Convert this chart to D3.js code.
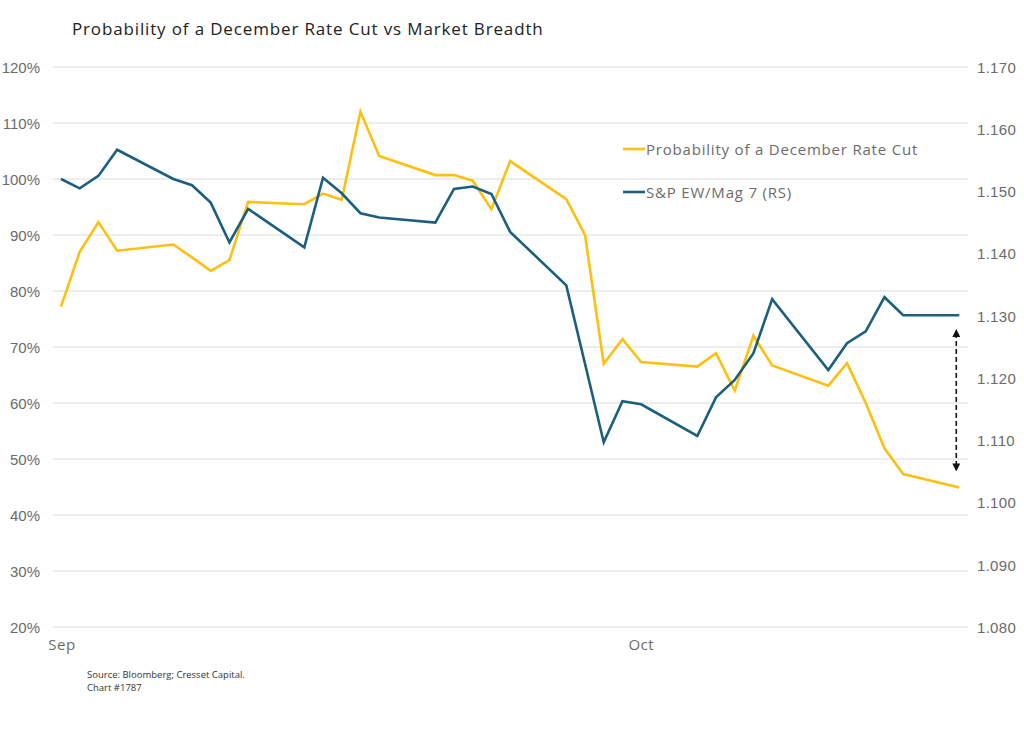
<!DOCTYPE html>
<html>
<head>
<meta charset="utf-8">
<script src="https://cdn.jsdelivr.net/npm/d3@7"></script>
<style>
  html, body { margin: 0; padding: 0; background: #fff; }
  svg { display: block; font-family: "Open Sans", "Noto Sans", sans-serif; }
</style>
</head>
<body>
<svg id="chart" width="1024" height="744"></svg>
<script>
const dates = ["2025-09-02","2025-09-03","2025-09-04","2025-09-05","2025-09-08","2025-09-09","2025-09-10","2025-09-11","2025-09-12",
  "2025-09-15","2025-09-16","2025-09-17","2025-09-18","2025-09-19","2025-09-22","2025-09-23","2025-09-24","2025-09-25","2025-09-26",
  "2025-09-29","2025-09-30","2025-10-01","2025-10-02","2025-10-03","2025-10-06","2025-10-07","2025-10-08","2025-10-09","2025-10-10",
  "2025-10-13","2025-10-14","2025-10-15","2025-10-16","2025-10-17","2025-10-20"];
const rateCutProb = [77.2, 87.0, 92.3, 87.2, 88.3, 86.0, 83.6, 85.5, 95.9,
  95.5, 97.4, 96.3, 112.0, 104.1, 100.7, 100.7, 99.7, 94.6, 103.2,
  96.4, 90.0, 67.0, 71.4, 67.3, 66.5, 68.9, 62.2, 72.0, 66.7,
  63.1, 67.1, 60.0, 51.9, 47.3, 44.9];
const ewMag7 = [1.1520, 1.1505, 1.1525, 1.1567, 1.1520, 1.1510, 1.1482, 1.1418, 1.1472,
  1.1410, 1.1522, 1.1497, 1.1465, 1.1458, 1.1450, 1.1504, 1.1508, 1.1496, 1.1435,
  1.1349, 1.1223, 1.1097, 1.1163, 1.1158, 1.1107, 1.1169, 1.1197, 1.1240, 1.1327,
  1.1213, 1.1256, 1.1275, 1.1330, 1.1301, 1.1301];
const leftTicks = [20, 30, 40, 50, 60, 70, 80, 90, 100, 110, 120];
const rightTicks = [1.08, 1.09, 1.10, 1.11, 1.12, 1.13, 1.14, 1.15, 1.16, 1.17];
const monthLabels = ["Sep", "Oct"];
const monthLabelDates = ["2025-09-01", "2025-10-02"];
const seriesNames = ["Probability of a December Rate Cut", "S&P EW/Mag 7 (RS)"];
const seriesColors = ["#FDC010", "#1B5F7E"];

const parse = d3.utcParse("%Y-%m-%d");
const svg = d3.select("#chart");

const x = d3.scaleUtc().domain([parse(dates[0]), parse(dates[dates.length - 1])]).range([61, 959.3]);
const yL = d3.scaleLinear().domain([20, 120]).range([627, 67]);
const yR = d3.scaleLinear().domain([1.08, 1.17]).range([627, 67]);

// gridlines
svg.append("g").selectAll("line").data(leftTicks).join("line")
  .attr("x1", 53).attr("x2", 968)
  .attr("y1", d => yL(d)).attr("y2", d => yL(d))
  .attr("stroke", "#dcdcdc").attr("stroke-width", 1.2);

// left axis
const leftAxis = d3.axisLeft(yL).tickValues(leftTicks).tickFormat(d => d + "%").tickSize(0).tickPadding(0);
const gL = svg.append("g").attr("transform", "translate(40,0)").call(leftAxis);
gL.select(".domain").remove();
gL.selectAll("text").attr("fill", "#6b6b6b").attr("font-size", 15).attr("dy", "0.35em");

// right axis
const rightAxis = d3.axisRight(yR).tickValues(rightTicks).tickFormat(d3.format(".3f")).tickSize(0).tickPadding(0);
const gR = svg.append("g").attr("transform", "translate(977,0)").call(rightAxis);
gR.select(".domain").remove();
gR.selectAll("text").attr("fill", "#6b6b6b").attr("font-size", 15).attr("dy", "0.35em").attr("letter-spacing", 0.3);

// x labels
svg.append("g").selectAll("text").data(monthLabels).join("text")
  .attr("x", (d, i) => x(parse(monthLabelDates[i])) + 6)
  .attr("y", 650)
  .attr("fill", "#6b6b6b").attr("font-size", 15).attr("letter-spacing", 0.5)
  .text(d => d);

// lines
const idx = d3.range(dates.length);
const lineL = d3.line().x(i => x(parse(dates[i]))).y(i => yL(rateCutProb[i]));
const lineR = d3.line().x(i => x(parse(dates[i]))).y(i => yR(ewMag7[i]));
svg.append("path").datum(idx).attr("d", lineL).attr("fill", "none")
  .attr("stroke", seriesColors[0]).attr("stroke-width", 2.6).attr("stroke-linejoin", "miter");
svg.append("path").datum(idx).attr("d", lineR).attr("fill", "none")
  .attr("stroke", seriesColors[1]).attr("stroke-width", 2.6).attr("stroke-linejoin", "miter");

// dashed double arrow
const defs = svg.append("defs");
defs.append("marker").attr("id", "arrEnd").attr("viewBox", "0 0 10 10").attr("refX", 5).attr("refY", 5)
  .attr("markerWidth", 5).attr("markerHeight", 5).attr("orient", "auto-start-reverse")
  .append("path").attr("d", "M0,0 L10,5 L0,10 z").attr("fill", "#111");
const arrowX = x(parse(dates[dates.length - 1])) - 3;
svg.append("line")
  .attr("x1", arrowX).attr("x2", arrowX)
  .attr("y1", yL(72.5)).attr("y2", yL(48.5))
  .attr("stroke", "#111").attr("stroke-width", 1.6).attr("stroke-dasharray", "5,3")
  .attr("marker-start", "url(#arrEnd)").attr("marker-end", "url(#arrEnd)");

// legend
const legend = svg.append("g");
seriesNames.forEach((name, i) => {
  const ly = 150 + i * 43;
  legend.append("line").attr("x1", 623).attr("x2", 645).attr("y1", ly - 1).attr("y2", ly - 1)
    .attr("stroke", seriesColors[i]).attr("stroke-width", 2.6);
  legend.append("text").attr("x", 646).attr("y", ly).attr("dy", "0.35em")
    .attr("fill", "#6b6b6b").attr("font-size", 15).attr("letter-spacing", 0.8).text(name);
});

// title
svg.append("text").attr("x", 72).attr("y", 35).attr("fill", "#222")
  .attr("font-size", 17).attr("letter-spacing", 0.85)
  .text("Probability of a December Rate Cut vs Market Breadth");

// source
svg.append("text").attr("x", 87).attr("y", 678).attr("fill", "#333").attr("font-size", 9.5)
  .text("Source: Bloomberg; Cresset Capital.");
svg.append("text").attr("x", 87).attr("y", 691).attr("fill", "#333").attr("font-size", 9.5)
  .text("Chart #1787");
</script>
</body>
</html>
